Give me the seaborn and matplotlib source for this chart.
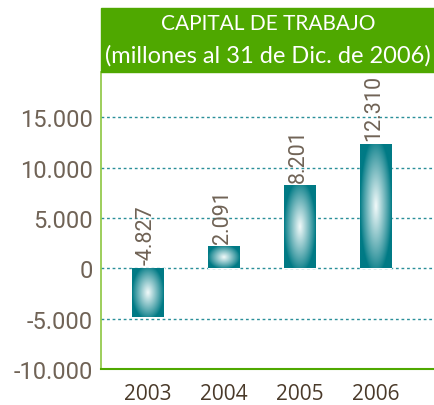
import matplotlib.pyplot as plt
import numpy as np
import pandas as pd
import seaborn as sns
from matplotlib.colors import to_rgb
from matplotlib.patches import Rectangle

# chart data
years = ["2003", "2004", "2005", "2006"]
capital = [-4827, 2091, 8201, 12310]
value_labels = ["-4.827", "2.091", "8.201", "12.310"]
y_ticks = [-10000, -5000, 0, 5000, 10000, 15000]
y_tick_labels = ["-10.000", "-5.000", "0", "5.000", "10.000", "15.000"]
title_lines = ["CAPITAL DE TRABAJO", "(millones al 31 de Dic. de 2006)"]

TEAL = "#007a85"
GREEN = "#4fa800"
LIGHT_GREEN = "#8cc63f"
GREY_BROWN = "#706356"
DARK_BROWN = "#4a3a2a"


def gradient_bar(ax, patch):
    """Overlay a radial teal-to-white gradient on one bar."""
    bb = patch.get_bbox()
    x0, x1 = sorted([bb.x0, bb.x1])
    y0, y1 = sorted([bb.y0, bb.y1])
    u, v = np.meshgrid(np.linspace(-1, 1, 120), np.linspace(-1, 1, 240))
    d = np.clip(np.sqrt(u**2 + (0.9 * v) ** 2), 0, 1)
    t = (1 - d) ** 0.9
    edge = np.array(to_rgb(TEAL))
    core = np.array(to_rgb("#f2fafa"))
    img = edge + (core - edge) * t[..., None]
    ax.imshow(img, extent=(x0, x1, y0, y1), aspect="auto", zorder=3, origin="lower")


sns.set_style("white")
plt.rcParams["font.family"] = ["Roboto", "DejaVu Sans"]

df = pd.DataFrame({"year": years, "capital": capital})

fig = plt.figure(figsize=(4.35, 4.06), dpi=100)
ax = fig.add_axes([101 / 435, 36 / 406, 334 / 435, 297 / 406])
sns.barplot(data=df, x="year", y="capital", color=TEAL, saturation=1,
            width=0.41, ax=ax, zorder=2)

for patch in list(ax.patches):
    gradient_bar(ax, patch)

for patch, label, value in zip(ax.patches, value_labels, capital):
    xc = patch.get_x() + patch.get_width() / 2
    ax.annotate(label, (xc, max(value, 0)), xytext=(-1, 3),
                textcoords="offset points", rotation=90, ha="center",
                va="bottom", fontsize=15.5, color=GREY_BROWN, zorder=4)

ax.set_xlim(-0.62, 3.785)
ax.set_ylim(-10000, 19500)
ax.set_yticks(y_ticks)
ax.set_yticklabels(y_tick_labels, fontsize=17, color=GREY_BROWN)
ax.set_xticks(range(len(years)))
ax.set_xticklabels(years, fontsize=15, color=DARK_BROWN,
                   family="Open Sans", fontweight="medium")
ax.tick_params(axis="y", length=0, pad=6)
ax.tick_params(axis="x", length=0, pad=10)
ax.set_xlabel("")
ax.set_ylabel("")

ax.set_axisbelow(True)
ax.yaxis.grid(True, linestyle=(0, (2, 2)), color="#2a8f99", linewidth=1)
ax.xaxis.grid(False)
for side in ["top", "right"]:
    ax.spines[side].set_visible(False)
ax.spines["left"].set_color(LIGHT_GREEN)
ax.spines["left"].set_linewidth(1.2)
ax.spines["bottom"].set_color(GREEN)
ax.spines["bottom"].set_linewidth(1.5)
ax.spines["bottom"].set_zorder(5)

# green title box
fig.add_artist(Rectangle((101 / 435, 333 / 406), 334 / 435, 64 / 406,
                         transform=fig.transFigure, color=GREEN, zorder=5))
fig.text(0.616, 0.941, title_lines[0], ha="center", va="center",
         color="white", fontsize=15, family="Lato", zorder=6)
fig.text(0.616, 0.862, title_lines[1], ha="center", va="center",
         color="white", fontsize=17, family="Lato", zorder=6)

fig.savefig("out.png", dpi=100)
